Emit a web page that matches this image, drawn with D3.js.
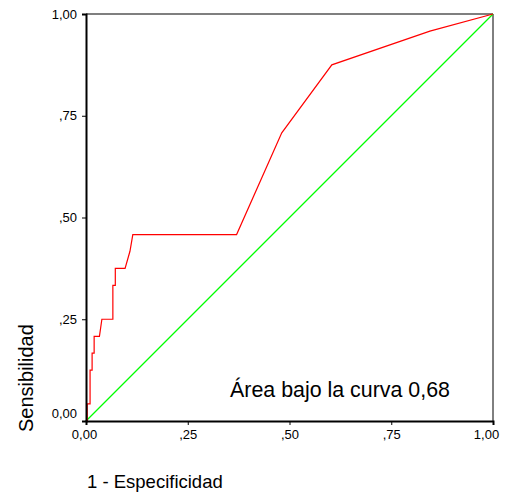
<!DOCTYPE html>
<html>
<head>
<meta charset="utf-8">
<script src="https://cdn.jsdelivr.net/npm/d3@7/dist/d3.min.js"></script>
<style>
  body { margin: 0; background: #fff; }
  text { font-family: Arial, "Liberation Sans", sans-serif; fill: #000; }
</style>
</head>
<body>
<svg id="chart"></svg>
<script>
// ROC curve points (1 - specificity, sensitivity)
var fprValues = [0, 0.003, 0.003, 0.010, 0.010, 0.015, 0.015, 0.020, 0.020, 0.033, 0.039,
  0.066, 0.066, 0.072, 0.072, 0.096, 0.108, 0.115, 0.370, 0.481, 0.604, 0.845, 1];
var tprValues = [0, 0, 0.042, 0.042, 0.125, 0.125, 0.167, 0.167, 0.208, 0.208, 0.25,
  0.25, 0.333, 0.333, 0.375, 0.375, 0.417, 0.458, 0.458, 0.708, 0.875, 0.958, 1];
var refLine = [0, 1];
var tickValues = [0, 0.25, 0.5, 0.75, 1];
var tickLabels = ["0,00", ",25", ",50", ",75", "1,00"];
var areaLabel = "Área bajo la curva 0,68";

var width = 508;
var height = 493;
var plotLeft = 86, plotRight = 493, plotTop = 14, plotBottom = 421;

var svg = d3.select("#chart").attr("width", width).attr("height", height);

var x = d3.scaleLinear().domain([0, 1]).range([plotLeft, plotRight]);
var y = d3.scaleLinear().domain([0, 1]).range([plotBottom, plotTop]);

// frame: top and right thin lines
svg.append("line")
  .attr("x1", plotLeft).attr("x2", plotRight).attr("y1", plotTop).attr("y2", plotTop)
  .attr("stroke", "#000").attr("stroke-width", 1.2);
svg.append("line")
  .attr("x1", plotRight).attr("x2", plotRight).attr("y1", plotTop).attr("y2", plotBottom)
  .attr("stroke", "#000").attr("stroke-width", 1);

// reference diagonal
svg.append("path")
  .datum(refLine)
  .attr("d", d3.line().x(d => x(d)).y(d => y(d)))
  .attr("fill", "none")
  .attr("stroke", "#00ff00")
  .attr("stroke-width", 1.2);

// ROC curve
var rocLine = d3.line()
  .x((d, i) => x(fprValues[i]))
  .y((d, i) => y(tprValues[i]));

svg.append("path")
  .datum(fprValues)
  .attr("d", rocLine)
  .attr("fill", "none")
  .attr("stroke", "#ff0000")
  .attr("stroke-width", 1.2);

// axes
var xAxis = d3.axisBottom(x)
  .tickValues(tickValues)
  .tickSize(4)
  .tickPadding(5)
  .tickFormat((d, i) => tickLabels[i]);

var yAxis = d3.axisLeft(y)
  .tickValues(tickValues)
  .tickSize(4)
  .tickPadding(5)
  .tickFormat((d, i) => tickLabels[i]);

var gx = svg.append("g")
  .attr("transform", "translate(0," + plotBottom + ")")
  .call(xAxis);

var gy = svg.append("g")
  .attr("transform", "translate(" + plotLeft + ",0)")
  .call(yAxis);

[gx, gy].forEach(g => {
  g.attr("font-size", null).attr("font-family", null);
  g.select(".domain").attr("stroke", "#000").attr("stroke-width", 2);
  g.selectAll(".tick line").attr("stroke", "#000").attr("stroke-width", 1);
  g.selectAll(".tick text")
    .style("font-family", "Arial, 'Liberation Sans', sans-serif")
    .style("font-size", "13px")
    .attr("fill", "#000");
});

// keep end labels away from each other / the edge
gx.selectAll(".tick text").attr("dx", (d, i) => (i == tickValues.length - 1 ? -7 : i == 0 ? -2 : 0));
gy.selectAll(".tick text").attr("dy", (d, i) => (i == 0 ? "-0.3em" : "0.32em"));

// axis titles
svg.append("text")
  .attr("x", 87)
  .attr("y", 488)
  .style("font-size", "18.5px")
  .text("1 - Especificidad");

svg.append("text")
  .attr("transform", "translate(33,432)rotate(-90)")
  .style("font-size", "20px")
  .text("Sensibilidad");

// area annotation
svg.append("text")
  .attr("x", 230)
  .attr("y", 397)
  .style("font-size", "21.4px")
  .text(areaLabel);
</script>
</body>
</html>
